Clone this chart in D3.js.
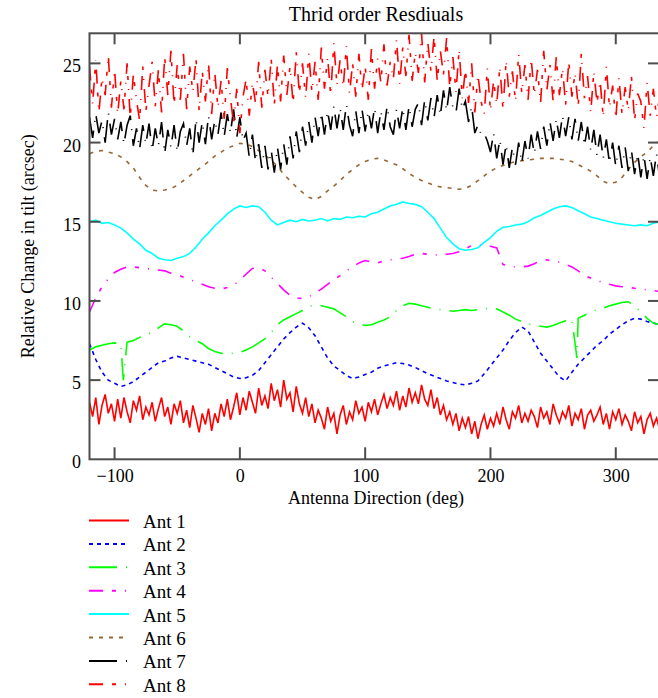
<!DOCTYPE html>
<html>
<head>
<meta charset="utf-8">
<script src="https://cdn.jsdelivr.net/npm/d3@7"></script>
<style>
  body { margin: 0; background: #ffffff; }
  text { font-family: "Liberation Serif", "Times New Roman", serif; fill: #000; }
</style>
</head>
<body>
<svg id="chart" width="658" height="698"></svg>
<script>
// ---------------- data ----------------
const chartTitle = "Thrid order Resdiuals";
const xAxisLabel = "Antenna Direction (deg)";
const yAxisLabel = "Relative Change in tilt (arcsec)";
const xTickValues = [-100, 0, 100, 200, 300];
const yTickValues = [0, 5, 10, 15, 20, 25];
const seriesNames = ["Ant 1", "Ant 2", "Ant 3", "Ant 4", "Ant 5", "Ant 6", "Ant 7", "Ant 8"];

// sampling grids (deg)
const coarseAngles = d3.range(-120, 336, 5);    // 92 samples
const fineAngles = d3.range(-120, 336, 2.5);    // 183 samples

// Ant 1 (fine grid)
const ant1 = [
  3.6, 2.7, 3.9, 2.2, 3.4, 4.1, 2.9, 3.5, 2.4, 3.8,
  2.6, 3.9, 3.0, 2.3, 3.7, 3.1, 4.0, 2.5, 3.3, 2.8,
  3.6, 2.4, 3.2, 3.9, 2.7, 3.3, 2.2, 3.5, 2.9, 3.7,
  2.3, 3.1, 2.0, 3.4, 2.6, 1.7, 2.9, 2.2, 3.2, 1.8,
  2.9, 2.3, 3.5, 2.7, 3.8, 2.5, 3.3, 4.2, 2.8, 3.9,
  3.1, 4.3, 3.6, 2.9, 4.5, 3.4, 4.0, 3.2, 4.8, 3.7,
  4.4, 3.3, 5.0, 3.8, 4.2, 3.0, 4.6, 3.5, 2.9, 3.9,
  2.7, 3.5, 2.3, 3.1, 2.6, 1.9, 3.3, 2.4, 2.9, 1.6,
  2.8, 3.4, 2.2, 3.0, 2.5, 3.7, 2.9, 3.3, 2.4, 3.6,
  3.0, 3.8, 2.8, 3.5, 4.1, 3.2, 3.9, 3.4, 4.3, 3.1,
  4.0, 3.3, 4.5, 3.6, 4.2, 3.5, 4.7, 3.8, 3.4, 4.4,
  3.2, 3.9, 2.8, 3.4, 2.5, 3.0, 2.2, 2.9, 1.8, 2.6,
  2.0, 2.7, 1.6, 2.4, 1.3, 2.2, 2.8, 1.9, 2.6, 2.1,
  2.9, 2.2, 3.3, 2.5, 1.9, 3.0, 2.6, 3.4, 2.3, 2.9,
  2.4, 3.1, 2.7, 2.0, 3.3, 2.6, 3.0, 2.2, 3.5, 2.8,
  2.3, 3.0, 2.6, 3.4, 2.1, 2.9, 2.5, 3.2, 1.9, 2.8,
  3.1, 2.4, 2.8, 3.3, 2.2, 2.9, 1.9, 3.0, 2.5, 3.2,
  2.2, 2.8, 2.4, 1.8, 3.0, 2.3, 2.7, 1.6, 2.5, 2.9,
  2.1, 2.6, 1.9
];

// Ant 2 (coarse grid)
const ant2 = [
  7.3, 6.3, 5.5, 5.0, 4.8, 4.6, 4.7, 4.9, 5.2, 5.5,
  5.8, 6.1, 6.2, 6.4, 6.5, 6.4, 6.3, 6.2, 6.1, 6.0,
  5.8, 5.6, 5.4, 5.2, 5.1, 5.15, 5.3, 5.6, 6.1, 6.6,
  7.1, 7.6, 8.0, 8.35, 8.6, 8.3, 7.8, 7.1, 6.4, 5.9,
  5.6, 5.3, 5.1, 5.2, 5.35, 5.5, 5.75, 5.9, 6.0, 6.1,
  6.05, 5.95, 5.8, 5.6, 5.4, 5.25, 5.1, 4.95, 4.85, 4.75,
  4.7, 4.8, 4.95, 5.4, 5.9, 6.4, 6.9, 7.5, 8.0, 8.35,
  8.1, 7.4, 6.7, 6.2, 5.7, 5.2, 4.95, 5.5, 6.0, 6.4,
  6.8, 7.2, 7.5, 7.9, 8.2, 8.5, 8.75, 8.9, 8.85, 8.7,
  8.6, 8.5
];

// Ant 3 (coarse grid) plus two narrow dropouts
const ant3 = [
  6.9, 7.1, 7.2, 7.3, 7.35, 7.3, 7.4, 7.5, 7.7, 7.9,
  8.0, 8.3, 8.55, 8.5, 8.4, 8.1, 7.75, 7.5, 7.3, 7.0,
  6.8, 6.7, 6.65, 6.7, 6.75, 6.9, 7.1, 7.35, 7.6, 8.0,
  8.5, 8.8, 9.0, 9.2, 9.4, 9.65, 9.75, 9.7, 9.6, 9.5,
  9.25, 9.0, 8.7, 8.55, 8.45, 8.5, 8.65, 8.8, 9.0, 9.4,
  9.7, 9.85, 9.8, 9.7, 9.6, 9.5, 9.45, 9.4, 9.35, 9.4,
  9.45, 9.4, 9.45, 9.5, 9.55, 9.5, 9.3, 9.1, 8.85, 8.7,
  8.55, 8.45, 8.4, 8.35, 8.45, 8.6, 8.75, 8.85, 8.9, 9.1,
  9.3, 9.45, 9.55, 9.7, 9.8, 9.9, 9.95, 9.7, 9.3, 8.9,
  8.6, 8.5
];
const ant3DropAngles = [-93, 269];
const ant3DropValues = [5.0, 6.4];

// Ant 4 (coarse grid)
const ant4 = [
  9.3, 10.2, 10.9, 11.4, 11.8, 12.0, 12.15, 12.15, 12.1, 12.05,
  12.0, 11.95, 11.9, 11.75, 11.65, 11.5, 11.35, 11.2, 11.05, 10.9,
  10.8, 10.75, 10.85, 11.0, 11.3, 11.7, 12.05, 12.1, 11.9, 11.5,
  11.1, 10.7, 10.35, 10.2, 10.15, 10.25, 10.5, 10.75, 11.05, 11.35,
  11.6, 11.9, 12.15, 12.4, 12.55, 12.45, 12.4, 12.55, 12.6, 12.65,
  12.7, 12.8, 12.95, 13.0, 12.95, 12.9, 12.9, 12.95, 13.0, 13.1,
  13.3, 13.5, 13.55, 13.5, 13.45, 13.35, 12.3, 12.2, 12.15, 12.15,
  12.2, 12.35, 12.55, 12.6, 12.5, 12.45, 12.3, 12.15, 11.9, 11.6,
  11.45, 11.3, 11.15, 11.05, 10.95, 10.9, 10.85, 10.8, 10.75, 10.7,
  10.65, 10.6
];

// Ant 5 (coarse grid)
const ant5 = [
  15.0, 15.1, 14.9, 14.95, 14.8, 14.6, 14.3, 13.9, 13.6, 13.2,
  13.0, 12.7, 12.6, 12.55, 12.7, 12.8, 13.0, 13.4, 13.9, 14.3,
  14.75, 15.1, 15.5, 15.8, 16.0, 15.9, 16.0, 15.95, 15.6, 15.1,
  14.8, 14.95, 15.1, 15.0, 15.15, 15.05, 15.1, 15.2, 15.05, 15.2,
  15.15, 15.3, 15.25, 15.35, 15.3, 15.5, 15.6, 15.8, 16.0, 16.1,
  16.25, 16.15, 16.1, 15.95, 15.6, 15.2, 14.6, 14.0, 13.6, 13.3,
  13.2, 13.25, 13.35, 13.7, 14.0, 14.4, 14.65, 14.7, 14.8, 14.85,
  15.0, 15.25, 15.4, 15.6, 15.8, 15.95, 16.0, 15.9, 15.7, 15.5,
  15.3, 15.2, 15.1, 15.0, 14.9, 14.85, 14.8, 14.75, 14.8, 14.75,
  14.9, 15.0
];

// Ant 6 (coarse grid)
const ant6 = [
  19.3, 19.45, 19.5, 19.4, 19.3, 19.1, 18.8, 18.4, 17.8, 17.3,
  17.0, 16.95, 17.0, 17.1, 17.3, 17.6, 17.9, 18.2, 18.5, 18.8,
  19.15, 19.4, 19.65, 19.8, 19.95, 19.9, 19.75, 19.5, 19.2, 18.9,
  18.5, 18.0, 17.6, 17.2, 16.85, 16.55, 16.4, 16.6, 16.95, 17.25,
  17.6, 18.0, 18.3, 18.6, 18.8, 18.95, 19.0, 18.9, 18.75, 18.6,
  18.35, 18.05, 17.8, 17.6, 17.45, 17.3, 17.2, 17.15, 17.1, 17.05,
  17.1, 17.3, 17.6, 17.9, 18.2, 18.4, 18.55, 18.7, 18.8, 18.85,
  18.9, 18.95, 19.0, 19.0, 19.0, 18.95, 18.9, 18.8, 18.6, 18.4,
  18.2, 17.9, 17.55, 17.4, 17.5, 17.8, 18.3, 18.75, 19.1, 19.4,
  19.8, 20.1
];

// Ant 7 (fine grid)
const ant7 = [
  21.6, 20.3, 21.8, 20.6, 21.4, 20.0, 21.9, 20.5, 21.5, 20.2,
  21.3, 19.9, 21.1, 21.7, 19.8, 20.9, 19.6, 21.1, 19.9, 21.2,
  19.5, 20.9, 19.8, 21.3, 19.3, 20.8, 19.7, 21.1, 19.4, 20.7,
  21.2, 19.8, 20.9, 19.2, 21.5, 20.0, 21.3, 19.9, 21.7, 20.2,
  21.4, 20.5, 21.9, 20.4, 21.8, 20.6, 22.1, 20.3, 21.6, 20.1,
  20.6, 19.1, 20.5, 18.8, 19.9, 18.4, 19.8, 18.3, 19.5, 18.1,
  19.7, 18.3, 19.9, 18.6, 20.4, 19.0, 20.7, 19.4, 21.0, 19.8,
  21.3, 20.0, 21.6, 20.4, 21.9, 20.5, 22.0, 20.8, 22.3, 20.9,
  22.2, 20.8, 22.4, 21.1, 20.4, 22.0, 20.6, 22.1, 20.7, 22.0,
  20.9, 22.2, 20.6, 22.0, 20.8, 22.3, 21.0, 20.5, 22.1, 20.9,
  22.2, 20.8, 22.3, 21.0, 22.1, 22.5, 21.1, 22.7, 21.4, 22.8,
  21.6, 23.0, 21.7, 23.3, 22.0, 23.5, 22.2, 21.9, 23.4, 22.1,
  22.6, 21.3, 22.3, 20.6, 21.1, 20.5, 20.6, 20.1, 19.4, 20.6,
  19.0, 20.2, 18.6, 19.9, 18.4, 19.7, 18.6, 20.0, 18.7, 20.1,
  19.0, 20.5, 19.3, 20.7, 19.6, 21.0, 19.8, 21.3, 20.1, 21.5,
  20.3, 21.7, 20.4, 21.6, 20.2, 21.5, 20.1, 21.3, 19.8, 21.0,
  19.5, 20.8, 19.2, 20.5, 19.0, 20.2, 18.7, 20.0, 18.5, 19.8,
  18.4, 19.7, 18.2, 19.5, 18.0, 19.3, 17.8, 19.2, 17.7, 19.1,
  17.9, 19.3, 17.8
];

// Ant 8 (fine grid)
const ant8 = [
  24.8, 22.4, 25.2, 21.9, 24.1, 23.0, 25.5, 22.2, 24.6, 21.8,
  23.9, 22.1, 25.0, 21.6, 24.3, 22.7, 21.4, 24.8, 22.0, 23.6,
  25.1, 22.3, 24.6, 21.9, 25.4, 23.0, 25.8, 22.4, 24.9, 22.7,
  25.6, 22.1, 24.8, 23.2, 25.3, 22.0, 24.5, 22.6, 25.0, 21.8,
  24.4, 22.2, 23.9, 21.5, 24.7, 22.8, 21.2, 23.4, 20.6, 22.9,
  24.0, 21.7, 23.8, 22.5, 25.1, 22.2, 24.6, 22.9, 25.3, 22.4,
  24.9, 22.6, 25.5, 23.0, 24.8, 22.5, 25.7, 23.1, 25.0, 22.8,
  25.6, 23.2, 25.1, 22.7, 26.0, 23.4, 25.4, 23.0, 26.3, 23.6,
  25.2, 23.5, 26.1, 23.1, 25.0, 22.9, 25.6, 23.3, 24.8, 22.7,
  25.9, 23.4, 25.3, 23.8, 26.2, 23.6, 25.1, 24.0, 26.5, 23.7,
  26.0, 24.2, 26.8, 23.9, 25.7, 24.4, 26.9, 23.8, 26.3, 24.5,
  26.7, 23.9, 25.8, 24.3, 26.6, 23.5, 25.4, 23.2, 25.9, 22.8,
  24.6, 22.5, 25.0, 21.9, 24.3, 22.6, 21.8, 24.7, 22.0, 23.9,
  22.4, 24.8, 22.1, 25.2, 22.9, 24.5, 22.6, 25.6, 23.1, 24.9,
  22.7, 25.3, 23.0, 24.6, 22.5, 25.8, 23.3, 24.9, 22.6, 25.4,
  23.0, 24.7, 22.4, 25.1, 22.9, 24.4, 22.3, 25.6, 22.8, 24.2,
  21.9, 24.5, 22.5, 23.9, 21.6, 24.8, 22.2, 23.6, 21.5, 24.1,
  21.8, 23.5, 22.0, 24.2, 21.4, 23.1, 22.6, 20.9, 23.8, 21.7,
  23.4, 21.6, 22.9
];

// ---------------- styles ----------------
const seriesColors = ["#ff0000", "#0000ff", "#00ff00", "#ff00ff", "#00ffff", "#996633", "#000000", "#ff0000"];
const seriesDashes = [null, "4,4", "28,9,1,9", "14,9,4,9,1,9", null, "4,6", "28,9,1,9", "14,9,4,9,1,9"];

// ---------------- build ----------------
function zipPts(angles, values) { return angles.map((a, i) => [a, values[i]]); }
const ant3Pts = zipPts(coarseAngles, ant3)
  .concat(zipPts(ant3DropAngles, ant3DropValues))
  .sort((a, b) => a[0] - b[0]);

const seriesData = [
  zipPts(fineAngles, ant1),
  zipPts(coarseAngles, ant2),
  ant3Pts,
  zipPts(coarseAngles, ant4),
  zipPts(coarseAngles, ant5),
  zipPts(coarseAngles, ant6),
  zipPts(fineAngles, ant7),
  zipPts(fineAngles, ant8)
];

const svg = d3.select("#chart");
const plot = { left: 89.5, right: 659, top: 33.3, bottom: 459.3 };

const x = d3.scaleLinear().domain([-120, 334.5]).range([plot.left, plot.right]);
const y = d3.scaleLinear().domain([0, 26.9]).range([plot.bottom, plot.top]);

svg.append("defs").append("clipPath").attr("id", "clip")
  .append("rect")
  .attr("x", plot.left).attr("y", plot.top)
  .attr("width", plot.right - plot.left).attr("height", plot.bottom - plot.top);

const line = d3.line().x(d => x(d[0])).y(d => y(d[1]));

const traces = svg.append("g").attr("clip-path", "url(#clip)");
seriesData.forEach((pts, i) => {
  traces.append("path")
    .attr("d", line(pts))
    .attr("fill", "none")
    .attr("stroke", seriesColors[i])
    .attr("stroke-width", 1.6)
    .attr("stroke-dasharray", seriesDashes[i])
    .attr("stroke-linejoin", "miter");
});

// frame and ticks
const axisColor = "#4d4d4d";
const frame = svg.append("g").attr("stroke", axisColor).attr("stroke-width", 2).attr("fill", "none");
frame.append("rect")
  .attr("x", plot.left).attr("y", plot.top)
  .attr("width", plot.right - plot.left).attr("height", plot.bottom - plot.top);

xTickValues.forEach(v => {
  frame.append("line").attr("x1", x(v)).attr("x2", x(v)).attr("y1", plot.bottom).attr("y2", plot.bottom - 12);
  frame.append("line").attr("x1", x(v)).attr("x2", x(v)).attr("y1", plot.top).attr("y2", plot.top + 11);
});
yTickValues.forEach(v => {
  if (v === 0) return;
  frame.append("line").attr("x1", plot.left).attr("x2", plot.left + 11).attr("y1", y(v)).attr("y2", y(v));
  frame.append("line").attr("x1", plot.right).attr("x2", plot.right - 11).attr("y1", y(v)).attr("y2", y(v));
});

// tick labels
const xAxis = d3.axisBottom(x).tickValues(xTickValues).tickSize(0).tickPadding(0);
const gx = svg.append("g").attr("transform", `translate(0,${plot.bottom})`).call(xAxis);
gx.select(".domain").remove();
gx.selectAll("text")
  .attr("y", 22.5).attr("dy", null)
  .style("font-family", '"Liberation Serif", serif').style("font-size", "18px").attr("fill", "#000");

const yAxis = d3.axisLeft(y).tickValues(yTickValues).tickSize(0).tickPadding(0);
const gy = svg.append("g").attr("transform", `translate(${plot.left - 8.5},0)`).call(yAxis);
gy.select(".domain").remove();
gy.selectAll("text")
  .attr("x", 0).attr("dy", "8.5px")
  .style("font-family", '"Liberation Serif", serif').style("font-size", "18px").attr("fill", "#000");

// titles
svg.append("text").attr("x", 376).attr("y", 21).attr("text-anchor", "middle")
  .style("font-size", "20px").text(chartTitle);
svg.append("text").attr("x", 376).attr("y", 504).attr("text-anchor", "middle")
  .style("font-size", "18px").text(xAxisLabel);
svg.append("text").attr("transform", `translate(34,${(plot.top + plot.bottom) / 2}) rotate(-90)`)
  .attr("text-anchor", "middle").style("font-size", "18px").text(yAxisLabel);

// legend
const legend = svg.append("g");
seriesNames.forEach((name, i) => {
  const ly = 520.5 + i * 23.4;
  legend.append("line")
    .attr("x1", 89).attr("x2", 129).attr("y1", ly).attr("y2", ly)
    .attr("stroke", seriesColors[i]).attr("stroke-width", 2)
    .attr("stroke-dasharray", seriesDashes[i]);
  legend.append("text").attr("x", 143).attr("y", ly + 7.5)
    .style("font-size", "19px").text(name);
});
</script>
</body>
</html>
